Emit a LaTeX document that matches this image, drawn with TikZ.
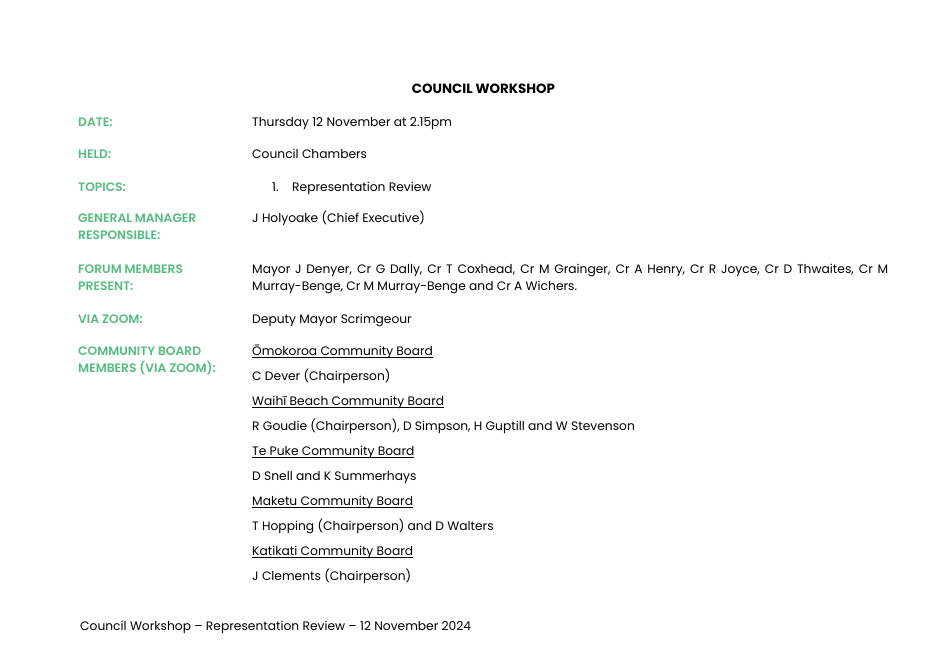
\documentclass[tikz,border=0pt]{standalone}
\usepackage{fontspec}
\setmainfont{Poppins}
\newfontfamily\labelfont{Poppins SemiBold}
\definecolor{headgreen}{HTML}{55BC80}
\newcommand\boardline[1]{\setbox0\hbox{#1}\rlap{\rule[-2pt]{\wd0}{0.45pt}}\box0}
% first line on the baseline of the node
\newcommand\topbase[2]{\vtop{\hsize=#1\baselineskip=16.1pt\noindent #2}}
\begin{document}
\begin{tikzpicture}[x=0.8967pt,y=-0.8967pt,
	lbl/.style={anchor=base west,inner sep=0pt,font=\labelfont\fontsize{11}{16.1}\selectfont,text=headgreen},
	val/.style={anchor=base west,inner sep=0pt,font=\fontsize{11}{16.1}\selectfont}]
					\useasboundingbox (0,0) rectangle (939,664);
					\node[anchor=base,inner sep=0pt,font=\bfseries\fontsize{12}{12}\selectfont] (title) at (483.5,94) {COUNCIL WORKSHOP};
					\path 
					(78,127) node[lbl] (date) {DATE:}
					(78,159) node[lbl] (held) {HELD:}
					(78,191) node[lbl] (topics) {TOPICS:}
					(78,222) node[lbl] (gm) {\topbase{150pt}{GENERAL MANAGER\\RESPONSIBLE:}}
					(78,273) node[lbl] (forum) {\topbase{150pt}{FORUM MEMBERS\\PRESENT:}}
					(78,323) node[lbl] (zoom) {VIA ZOOM:}
					(78,355) node[lbl] (board) {\topbase{150pt}{COMMUNITY BOARD\\MEMBERS (VIA ZOOM):}}
					;
					\path 
					(252,127) node[val] (dateval) {Thursday 12 November at 2.15pm}
					(252,159) node[val] (heldval) {Council Chambers}
					(272,191) node[val] (topicnum) {1.}
					(292,191) node[val] (topicval) {Representation Review}
					(252,222) node[val] (gmval) {J Holyoake (Chief Executive)}
					(252,273) node[val] (forumval) {\topbase{570.3pt}{Mayor J Denyer, Cr G Dally, Cr T Coxhead, Cr M Grainger, Cr A Henry, Cr R Joyce, Cr D Thwaites, Cr M Murray-Benge, Cr M Murray-Benge and Cr A Wichers.}}
					(252,323) node[val] (zoomval) {Deputy Mayor Scrimgeour}
					;
					\path 
					(252,355) node[val] (omokoroa) {\boardline{Ōmokoroa Community Board}}
					(252,380) node[val] (omokoroaval) {C Dever (Chairperson)}
					(252,405) node[val] (waihi) {\boardline{Waihī Beach Community Board}}
					(252,430) node[val] (waihival) {R Goudie (Chairperson), D Simpson, H Guptill and W Stevenson}
					(252,455) node[val] (tepuke) {\boardline{Te Puke Community Board}}
					(252,480) node[val] (tepukeval) {D Snell and K Summerhays}
					(252,505) node[val] (maketu) {\boardline{Maketu Community Board}}
					(252,530) node[val] (maketuval) {T Hopping (Chairperson) and D Walters}
					(252,555) node[val] (katikati) {\boardline{Katikati Community Board}}
					(252,580) node[val] (katikatival) {J Clements (Chairperson)}
					;
					\node[val] (footer) at (80,630) {Council Workshop – Representation Review – 12 November 2024};
			\end{tikzpicture}
\end{document}
